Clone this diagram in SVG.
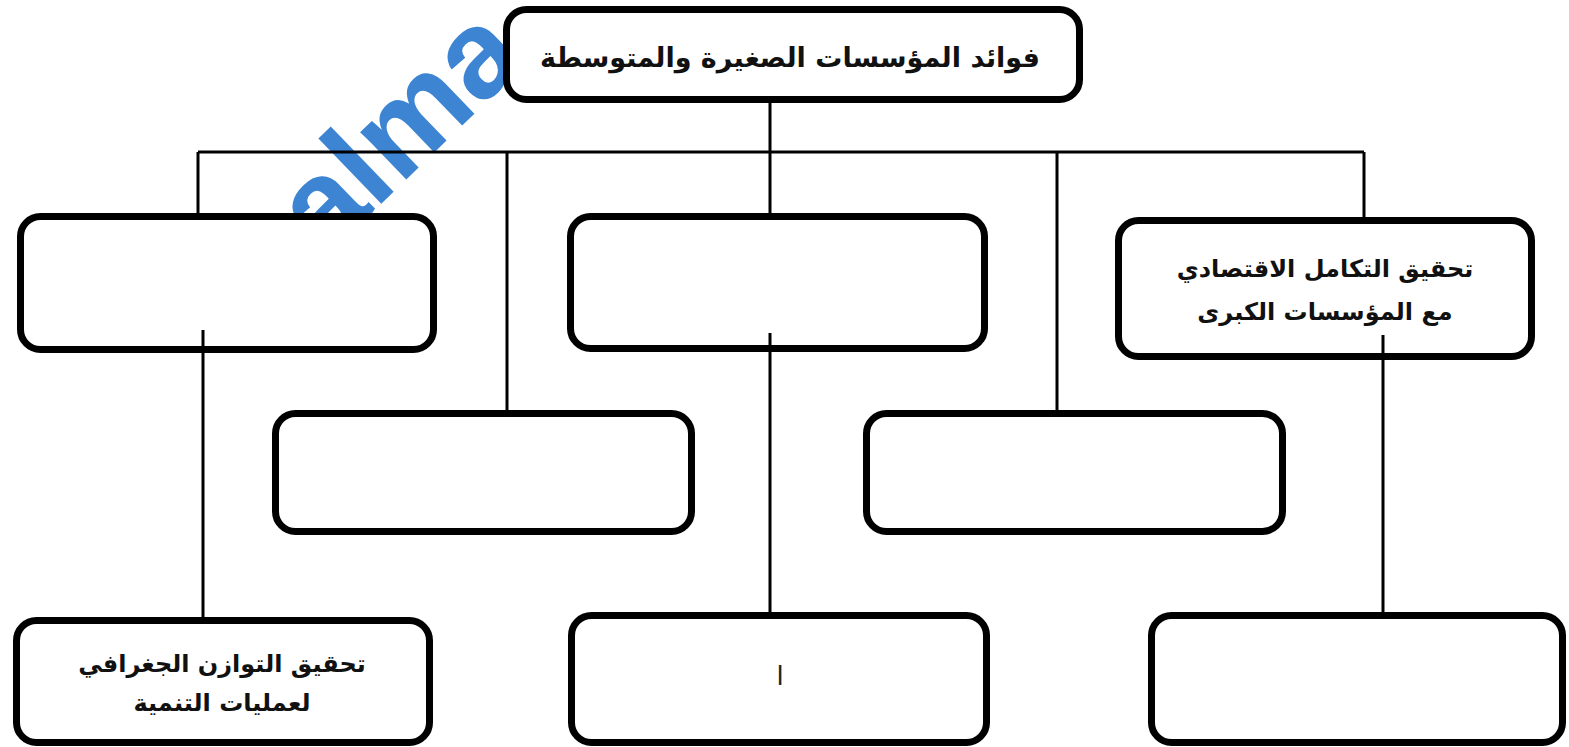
<svg xmlns="http://www.w3.org/2000/svg" width="1569" height="747" viewBox="0 0 1569 747">
<style>
.box{fill:#fff;stroke:#000;stroke-width:7}
.con{fill:none;stroke:#000;stroke-width:3}
.t{font-family:"DejaVu Sans",sans-serif;font-weight:bold;font-size:24px;fill:#111;text-anchor:middle}
.wm{font-family:"Liberation Sans",Arial,sans-serif;font-weight:bold;font-size:125px;fill:#3d85d3}
</style>
<rect width="1569" height="747" fill="#fff"/>
<text class="wm" transform="translate(325,258) rotate(-44)">alma</text>
<g id="n-root"><rect class="box" x="506.5" y="9.5" width="573" height="90" rx="20"/>
<text class="t" x="790" y="67" direction="rtl" style="font-size:27px">فوائد المؤسسات الصغيرة والمتوسطة</text></g>
<g id="n-top-left"><rect class="box" x="20.5" y="216.5" width="413" height="133" rx="20"/></g>
<g id="n-top-mid"><rect class="box" x="570.5" y="216.5" width="414" height="132" rx="20"/></g>
<g id="n-top-right"><rect class="box" x="1118.5" y="220.5" width="413" height="136" rx="20"/>
<text class="t" x="1325" y="277" direction="rtl">تحقيق التكامل الاقتصادي</text>
<text class="t" x="1325" y="320" direction="rtl">مع المؤسسات الكبرى</text></g>
<g id="n-mid-left"><rect class="box" x="275.5" y="413.5" width="416" height="118" rx="20"/></g>
<g id="n-mid-right"><rect class="box" x="866.5" y="413.5" width="416" height="118" rx="20"/></g>
<g id="n-bot-left"><rect class="box" x="16.5" y="620.5" width="413" height="122" rx="20"/>
<text class="t" x="222" y="672" direction="rtl">تحقيق التوازن الجغرافي</text>
<text class="t" x="222" y="711" direction="rtl">لعمليات التنمية</text></g>
<g id="n-bot-mid"><rect class="box" x="571.5" y="615.5" width="415" height="127" rx="20"/>
<text x="780" y="685" style="font-family:'DejaVu Sans',sans-serif;font-size:26px;fill:#222;text-anchor:middle">ا</text></g>
<g id="n-bot-right"><rect class="box" x="1151.5" y="615.5" width="411" height="127" rx="20"/></g>
<g id="connectors">
<path class="con" d="M770 103V213"/>
<path class="con" d="M198 152H1364"/>
<path class="con" d="M198 152V213M507 152V410M1057 152V410M1364 152V217"/>
<path class="con" d="M203 330V617M770 333V612M1383 335V612"/>
</g>
</svg>
